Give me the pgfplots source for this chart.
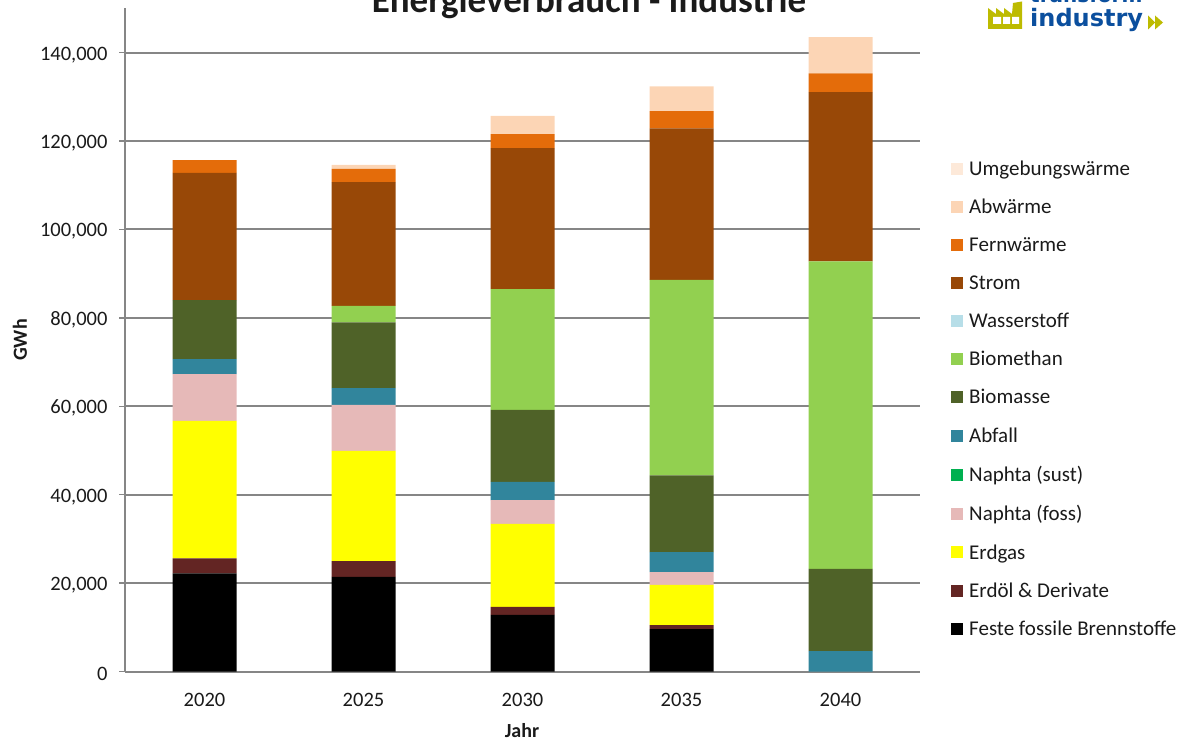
\documentclass[border=0pt]{standalone}
\usepackage{pgfplots}
\pgfplotsset{compat=1.18}
\usepackage{fontspec}
\setmainfont{Carlito}
\newfontfamily\logofont{DejaVu Sans}
\definecolor{cKohle}{HTML}{000000}
\definecolor{cOel}{HTML}{632523}
\definecolor{cGas}{HTML}{FFFF00}
\definecolor{cNaphF}{HTML}{E6B9B8}
\definecolor{cNaphS}{HTML}{00B050}
\definecolor{cAbfall}{HTML}{31859C}
\definecolor{cBiomasse}{HTML}{4F6228}
\definecolor{cBiomethan}{HTML}{92D050}
\definecolor{cWasserstoff}{HTML}{B7DEE8}
\definecolor{cStrom}{HTML}{984807}
\definecolor{cFern}{HTML}{E46C0A}
\definecolor{cAbw}{HTML}{FCD5B5}
\definecolor{cUmg}{HTML}{FDE9D9}
\definecolor{cGrau}{HTML}{868686}
\definecolor{cText}{HTML}{1A1A1A}
\definecolor{cLogoG}{HTML}{BDBB00}
\definecolor{cLogoB}{HTML}{0B4F9E}

% Energieverbrauch je Energietraeger in GWh
\pgfplotstableread{
idx Kohle Oel   Gas   NaphF NaphS Abfall Biomasse Biomethan Wasserstoff Strom Fern Abw  Umg
0   22200 3400  31100 10600 0     3400   13300    0         0           28800 2900 0    0
1   21400 3600  24900 10400 0     3800   14900    3700      0           28000 3000 900  0
2   12800 1800  18800 5400  0     4100   16300    27300     0           31900 3200 4100 0
3   9600  900   9100  2900  0     4500   17400    44200     0           34300 3900 5600 0
4   0     0     0     0     0     4600   18600    69600     0           38300 4200 8200 0
}\energie

\begin{document}
\begin{tikzpicture}[x=1pt,y=1pt]
\path[use as bounding box] (0,0) rectangle (1180,739);
\begin{axis}[
  at={(125pt,67.5pt)}, anchor=south west,
  scale only axis, width=795pt, height=663pt,
  ybar stacked, bar width=64pt,
  xmin=-0.5, xmax=4.5, ymin=0, ymax=150000,
  axis x line*=bottom, axis y line*=left,
  axis line style={draw=cGrau,line width=2pt,-},
  xtick={0,1,2,3,4},
  xticklabels={2020,2025,2030,2035,2040},
  extra x ticks={-0.5,0.5,1.5,2.5,3.5,4.5},
  extra x tick labels={},
  extra x tick style={grid=none,major tick length=7pt,tick style={draw=cGrau,line width=1.5pt}},
  major x tick style={draw=none},
  ytick={0,20000,40000,60000,80000,100000,120000,140000},
  yticklabels={{0},{20,000},{40,000},{60,000},{80,000},{100,000},{120,000},{140,000}},
  ytick style={draw=cGrau,line width=1.5pt},
  major tick length=6pt,
  tick align=outside,
  ymajorgrids,
  grid style={draw=cGrau,line width=2pt},
  scaled y ticks=false,
  tick label style={font=\fontsize{20.5}{24}\selectfont,text=cText},
  xticklabel style={yshift=-12pt},
  yticklabel style={xshift=-8pt,yshift=-2pt},
  legend style={
    at={(823pt,32pt)},anchor=south west,
    draw=none,fill=none,
    font=\fontsize{21}{24}\selectfont,text=cText,
    row sep=22.3pt,
    nodes={inner sep=0pt,anchor=west},
    /tikz/every odd column/.append style={column sep=6pt},
  },
  legend cell align=left,
  reverse legend,
  legend image code/.code={\fill[#1] (0pt,-6pt) rectangle (12pt,6pt);},
  every axis plot/.append style={draw=none},
  clip=false,
]
\addplot[fill=cKohle] table[x=idx,y=Kohle]{\energie};
\addlegendentry{Feste fossile Brennstoffe}
\addplot[fill=cOel] table[x=idx,y=Oel]{\energie};
\addlegendentry{Erdöl \& Derivate}
\addplot[fill=cGas] table[x=idx,y=Gas]{\energie};
\addlegendentry{Erdgas}
\addplot[fill=cNaphF] table[x=idx,y=NaphF]{\energie};
\addlegendentry{Naphta (foss)}
\addplot[fill=cNaphS] table[x=idx,y=NaphS]{\energie};
\addlegendentry{Naphta (sust)}
\addplot[fill=cAbfall] table[x=idx,y=Abfall]{\energie};
\addlegendentry{Abfall}
\addplot[fill=cBiomasse] table[x=idx,y=Biomasse]{\energie};
\addlegendentry{Biomasse}
\addplot[fill=cBiomethan] table[x=idx,y=Biomethan]{\energie};
\addlegendentry{Biomethan}
\addplot[fill=cWasserstoff] table[x=idx,y=Wasserstoff]{\energie};
\addlegendentry{Wasserstoff}
\addplot[fill=cStrom] table[x=idx,y=Strom]{\energie};
\addlegendentry{Strom}
\addplot[fill=cFern] table[x=idx,y=Fern]{\energie};
\addlegendentry{Fernwärme}
\addplot[fill=cAbw] table[x=idx,y=Abw]{\energie};
\addlegendentry{Abwärme}
\addplot[fill=cUmg] table[x=idx,y=Umg]{\energie};
\addlegendentry{Umgebungswärme}
\end{axis}
% Titel und Achsenbeschriftungen
\node[anchor=base,font=\fontsize{37}{42}\selectfont\bfseries,text=cText] at (589,726) {Energieverbrauch - Industrie};
\node[font=\fontsize{20}{24}\selectfont\bfseries,text=cText] at (522,8) {Jahr};
\node[rotate=90,font=\fontsize{20}{24}\selectfont\bfseries,text=cText] at (20,399) {GWh};
% Logo
\fill[cLogoG] (988,710) -- (988,731) -- (996,725) -- (996,731) -- (1004,725) -- (1004,731) -- (1012,725) -- (1013,736) -- (1022,737.5) -- (1022,710) -- cycle;
\fill[white] (993,715) rectangle (1001,722) (1003,715) rectangle (1010,722) (1012,715) rectangle (1019,722);
\node[anchor=base west,inner sep=0pt,font=\logofont\fontsize{24}{28}\selectfont\bfseries,text=cLogoB] at (1030,712.5) {industry};
\node[anchor=base west,inner sep=0pt,font=\logofont\fontsize{20}{24}\selectfont\bfseries,text=cLogoB] at (1030,736) {transform};
\fill[cLogoG] (1148,709.5) -- (1155,716.5) -- (1148,723.5) -- cycle (1155,709.5) -- (1163,716.5) -- (1155,723.5) -- cycle;
\end{tikzpicture}
\end{document}
